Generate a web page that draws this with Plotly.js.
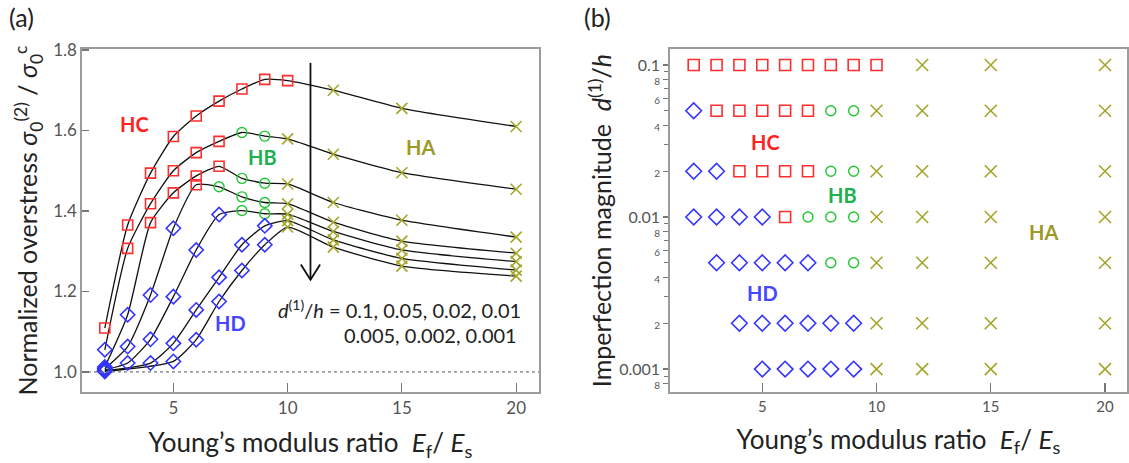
<!DOCTYPE html>
<html>
<head>
<meta charset="utf-8">
<script src="https://cdn.plot.ly/plotly-3.0.1.min.js"></script>
<style>
  html, body { margin: 0; padding: 0; background: #fff; }
  #chart { width: 1129px; height: 463px; }
</style>
</head>
<body>
<div id="chart"></div>
<script>
// Young's modulus ratio E_f / E_s sampled in the simulations
const E_RATIO = [2, 3, 4, 5, 6, 7, 8, 9, 10, 12, 15, 20];

// Imperfection magnitudes d(1)/h, one curve / one row each
const D_LEVELS = [0.1, 0.05, 0.02, 0.01, 0.005, 0.002, 0.001];

// Normalized overstress sigma0(2)/sigma0c for each imperfection magnitude
const OVERSTRESS_D0100 = [1.109, 1.365, 1.494, 1.585, 1.636, 1.673, 1.703, 1.727, 1.724, 1.700, 1.655, 1.610];
const OVERSTRESS_D0050 = [1.055, 1.307, 1.418, 1.500, 1.545, 1.573, 1.595, 1.586, 1.579, 1.541, 1.495, 1.454];
const OVERSTRESS_D0020 = [1.012, 1.142, 1.371, 1.445, 1.487, 1.511, 1.481, 1.469, 1.467, 1.421, 1.377, 1.335];
const OVERSTRESS_D0010 = [1.008, 1.063, 1.191, 1.357, 1.465, 1.460, 1.435, 1.421, 1.418, 1.372, 1.325, 1.295];
const OVERSTRESS_D0005 = [1.005, 1.022, 1.081, 1.187, 1.303, 1.391, 1.401, 1.393, 1.392, 1.349, 1.303, 1.274];
const OVERSTRESS_D0002 = [1.003, null, 1.022, 1.071, 1.154, 1.235, 1.316, 1.363, 1.376, 1.328, 1.282, 1.253];
const OVERSTRESS_D0001 = [1.001, null, null, 1.026, 1.080, 1.175, 1.252, 1.316, 1.360, 1.310, 1.263, 1.238];

// Deformation mode at each (E_f/E_s, d/h): A = HA, B = HB, C = HC, D = HD, "." = not computed
const MODES_CURVES = [
  "CCCCCCCCCAAA",
  "DCCCCCBBAAAA",
  "DDCCCCBBAAAA",
  "DDDDCBBBAAAA",
  "DDDDDDBBAAAA",
  "D.DDDDDDAAAA",
  "D..DDDDDAAAA"
];
const MODES_MAP = [
  "CCCCCCCCCAAA",
  "DCCCCCBBAAAA",
  "DDCCCCBBAAAA",
  "DDDDCBBBAAAA",
  ".DDDDDBBAAAA",
  "..DDDDDDAAAA",
  "...DDDDDAAAA"
];

// Axis ticks
const STRESS_TICKS = [1.0, 1.2, 1.4, 1.6, 1.8];
const RATIO_TICKS = [5, 10, 15, 20];
const D_MAJOR_TICKS = [0.1, 0.01, 0.001];
const D_MINOR_LABELS = [8, 6, 4, 2];
const D_MINOR_UNLABELED = [9, 7, 5, 3];

const OVERSTRESS = [OVERSTRESS_D0100, OVERSTRESS_D0050, OVERSTRESS_D0020, OVERSTRESS_D0010,
                    OVERSTRESS_D0005, OVERSTRESS_D0002, OVERSTRESS_D0001];

const FONT = "Lato, 'Open Sans', 'DejaVu Sans', sans-serif";

const MODE_STYLE = {
  C: {symbol: "square-open",  color: "#ff2e2e", sizeA: 10, sizeB: 11, width: 1.6},
  D: {symbol: "diamond-open", color: "#3434ff", sizeA: 11, sizeB: 12, width: 1.6},
  B: {symbol: "circle-open",  color: "#22c733", sizeA: 10, sizeB: 10, width: 1.4},
  A: {symbol: "x-thin-open",  color: "#a5a52a", sizeA: 11, sizeB: 12, width: 1.6}
};

const traces = [];

// (a) black spline curves, one per imperfection magnitude
OVERSTRESS.forEach((ys, i) => {
  traces.push({
    x: E_RATIO, y: ys, xaxis: "x", yaxis: "y",
    type: "scatter", mode: "lines", connectgaps: true,
    line: {color: "#111", width: 1.3, shape: "spline", smoothing: 0.55},
    name: "d/h = " + D_LEVELS[i], showlegend: false, hoverinfo: "skip"
  });
});

// Markers grouped by deformation mode, drawn on top of the curves
["C", "B", "A", "D"].forEach(mode => {
  const st = MODE_STYLE[mode];
  const xa = [], ya = [], xb = [], yb = [];
  OVERSTRESS.forEach((ys, i) => {
    E_RATIO.forEach((e, j) => {
      if (MODES_CURVES[i][j] === mode && ys[j] !== null) { xa.push(e); ya.push(ys[j]); }
      if (MODES_MAP[i][j] === mode) { xb.push(e); yb.push(D_LEVELS[i]); }
    });
  });
  traces.push({
    x: xa, y: ya, xaxis: "x", yaxis: "y", type: "scatter", mode: "markers",
    marker: {symbol: st.symbol, size: st.sizeA, color: st.color, line: {color: st.color, width: st.width}},
    name: "H" + mode, showlegend: false
  });
  traces.push({
    x: xb, y: yb, xaxis: "x2", yaxis: "y2", type: "scatter", mode: "markers",
    marker: {symbol: st.symbol, size: st.sizeB, color: st.color, line: {color: st.color, width: st.width}},
    name: "H" + mode, showlegend: false
  });
});

// Log-axis labels: decades in full, intermediate mantissas in small type
const dTickVals = [], dTickText = [];
D_MAJOR_TICKS.forEach(dec => {
  dTickVals.push(dec); dTickText.push(String(dec));
  D_MINOR_LABELS.forEach(m => {
    dTickVals.push(+(m * dec / 10).toPrecision(3));
    dTickText.push('<span style="font-size:10px">' + m + '</span>');
  });
});
const dMinorVals = [];
D_MAJOR_TICKS.forEach(dec => D_MINOR_UNLABELED.forEach(m => dMinorVals.push(+(m * dec / 10).toPrecision(3))));

// Geometry of the "decreasing d/h" arrow in panel (a)
const ARROW_X = 11, ARROW_TOP = 1.768, ARROW_TIP = 1.229, HEAD_W = 0.42, HEAD_H = 0.038;

const frame = {showline: true, mirror: true, linecolor: "#9c9c9c", linewidth: 1.6,
               showgrid: false, zeroline: false};

const TITLE_FONT = {size: 26, color: "#222", family: FONT};
const YTITLE_FONT = {size: 25, color: "#222", family: FONT};
const RATIO_TITLE = "Young\u2019s modulus ratio&#160;&#160;<i>E</i><sub>f</sub>/ <i>E</i><sub>s</sub>";

const layout = {
  width: 1129, height: 463,
  margin: {l: 0, r: 0, t: 0, b: 0},
  paper_bgcolor: "#fff", plot_bgcolor: "#fff",
  font: {family: FONT, color: "#222"},
  showlegend: false,
  xaxis: Object.assign({}, frame, {
    domain: [0.0726, 0.4774], range: [1, 21],
    tickmode: "array", tickvals: RATIO_TICKS, ticks: "inside", ticklen: 9, tickwidth: 1.2, tickcolor: "#777",
    tickfont: {size: 17, color: "#555", family: FONT},
    title: {text: RATIO_TITLE, font: TITLE_FONT, standoff: 17}
  }),
  yaxis: Object.assign({}, frame, {
    domain: [0.1533, 0.8942], range: [0.950, 1.8025],
    tickmode: "array", tickvals: STRESS_TICKS, ticktext: STRESS_TICKS.map(v => v.toFixed(1)),
    ticks: "inside", ticklen: 7, tickwidth: 1.2, tickcolor: "#777",
    tickfont: {size: 17, color: "#555", family: FONT},
    title: {text: "Normalized overstress <i>\u03c3</i><sub>0</sub><sup>(2)</sup> / <i>\u03c3</i><sub>0</sub><sup>c</sup>",
            font: YTITLE_FONT, standoff: 8}
  }),
  xaxis2: Object.assign({}, frame, {
    domain: [0.5934, 0.9982], range: [0.96, 20.96], anchor: "y2",
    tickmode: "array", tickvals: RATIO_TICKS, ticks: "inside", ticklen: 9, tickwidth: 1.2, tickcolor: "#777",
    tickfont: {size: 15, color: "#555", family: FONT},
    title: {text: RATIO_TITLE, font: TITLE_FONT, standoff: 17}
  }),
  yaxis2: Object.assign({}, frame, {
    domain: [0.1533, 0.8942], type: "log", range: [-3.151, -0.895], anchor: "x2",
    tickmode: "array", tickvals: dTickVals, ticktext: dTickText,
    ticks: "outside", ticklen: 5, tickwidth: 1.2, tickcolor: "#777",
    tickfont: {size: 16, color: "#555", family: FONT},
    minor: {tickmode: "array", tickvals: dMinorVals, ticks: "outside", ticklen: 4, tickwidth: 1, tickcolor: "#777", showgrid: false},
    title: {text: "Imperfection magnitude&#160;&#160;<i>d</i><sup>(1)</sup>/<i>h</i>",
            font: YTITLE_FONT, standoff: 0}
  }),
  shapes: [
    // reference level sigma0(2) = sigma0c
    {type: "line", xref: "x domain", yref: "y", x0: 0, x1: 1, y0: 1.0, y1: 1.0,
     line: {color: "#777", width: 1.2, dash: "dot"}},
    // arrow: curves ordered by decreasing d/h
    {type: "line", xref: "x", yref: "y", x0: ARROW_X, x1: ARROW_X, y0: ARROW_TOP, y1: ARROW_TIP,
     line: {color: "#111", width: 1.8}},
    {type: "path", xref: "x", yref: "y",
     path: `M ${ARROW_X - HEAD_W},${ARROW_TIP + HEAD_H} L ${ARROW_X},${ARROW_TIP} L ${ARROW_X + HEAD_W},${ARROW_TIP + HEAD_H}`,
     line: {color: "#111", width: 1.8}}
  ],
  annotations: [
    {xref: "paper", yref: "paper", x: 21 / 1129, y: 0.963, xanchor: "center", yanchor: "middle",
     text: "(a)", showarrow: false, font: {size: 25, color: "#222"}},
    {xref: "paper", yref: "paper", x: 597 / 1129, y: 0.963, xanchor: "center", yanchor: "middle",
     text: "(b)", showarrow: false, font: {size: 25, color: "#222"}},
    // mode labels, panel (a)
    {xref: "x", yref: "y", x: 3.29, y: 1.616, text: "<b>HC</b>", showarrow: false, font: {size: 20, color: "#ff2020"}},
    {xref: "x", yref: "y", x: 8.9, y: 1.534, text: "<b>HB</b>", showarrow: false, font: {size: 20, color: "#1fb050"}},
    {xref: "x", yref: "y", x: 15.8, y: 1.559, text: "<b>HA</b>", showarrow: false, font: {size: 20, color: "#9a9a25"}},
    {xref: "x", yref: "y", x: 7.49, y: 1.122, text: "<b>HD</b>", showarrow: false, font: {size: 20, color: "#4646ff"}},
    {xref: "x", yref: "y", x: 20.3, y: 1.157, xanchor: "right", showarrow: false,
     text: "<i>d</i><sup>(1)</sup>/<i>h</i> = 0.1, 0.05, 0.02, 0.01", font: {size: 20, color: "#222"}},
    {xref: "x", yref: "y", x: 20.14, y: 1.092, xanchor: "right", showarrow: false,
     text: "0.005, 0.002, 0.001", font: {size: 20, color: "#222"}},
    // mode labels, panel (b)
    {xref: "x2", yref: "y2", x: 5.16, y: Math.log10(0.0311), text: "<b>HC</b>", showarrow: false, font: {size: 20, color: "#ff2020"}},
    {xref: "x2", yref: "y2", x: 8.53, y: Math.log10(0.01396), text: "<b>HB</b>", showarrow: false, font: {size: 20, color: "#1fb050"}},
    {xref: "x2", yref: "y2", x: 17.29, y: Math.log10(0.00796), text: "<b>HA</b>", showarrow: false, font: {size: 20, color: "#9a9a25"}},
    {xref: "x2", yref: "y2", x: 5.0, y: Math.log10(0.00316), text: "<b>HD</b>", showarrow: false, font: {size: 20, color: "#4646ff"}}
  ]
};

Plotly.newPlot("chart", traces, layout, {staticPlot: true, displayModeBar: false});
</script>
</body>
</html>
